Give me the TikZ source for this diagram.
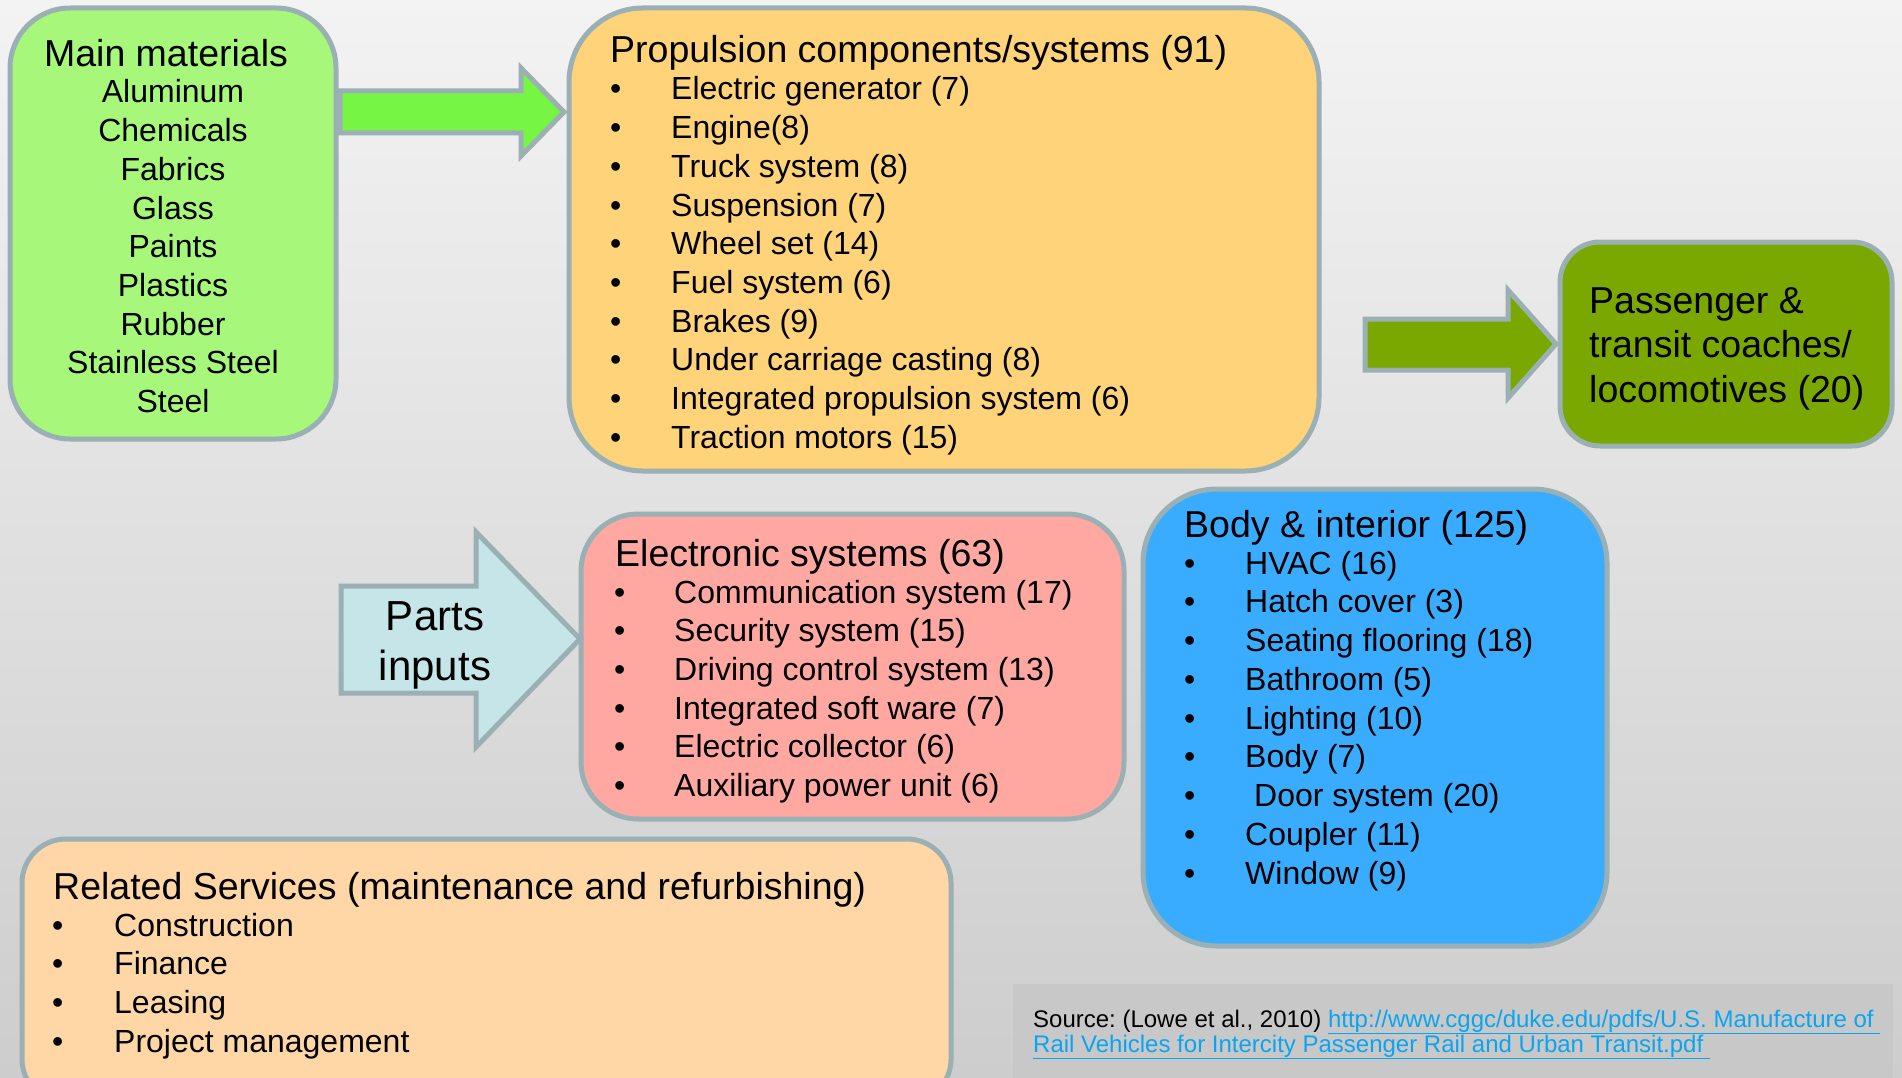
\documentclass[tikz,border=0pt]{standalone}
\usepackage{fontspec}
\setmainfont{Liberation Sans}
\frenchspacing
\definecolor{bord}{RGB}{154,176,181}
\definecolor{mgreen}{RGB}{166,247,122}
\definecolor{agreen}{RGB}{118,246,66}
\definecolor{porange}{RGB}{255,211,122}
\definecolor{olive}{RGB}{122,168,0}
\definecolor{epink}{RGB}{255,168,162}
\definecolor{bblue}{RGB}{58,172,255}
\definecolor{rpeach}{RGB}{255,215,166}
\definecolor{pcyan}{RGB}{197,229,232}
\definecolor{linkc}{RGB}{10,165,240}
\definecolor{bgtop}{RGB}{243,243,243}
\definecolor{bgbot}{RGB}{205,205,205}
\definecolor{srcbg}{RGB}{200,200,200}
\begin{document}
\begin{tikzpicture}[x=1pt,y=-1pt,
  box/.style={draw=bord, line width=5pt, inner sep=0pt, outer sep=0pt, anchor=north west},
  barrow/.style={draw=bord, line width=5pt, line join=miter},
  tx/.style={anchor=base west, inner sep=0pt, font=\fontsize{32}{38}\selectfont},
  txc/.style={anchor=base, inner sep=0pt, font=\fontsize{32}{38}\selectfont},
  ttl/.style={anchor=base west, inner sep=0pt, font=\fontsize{37.5}{44}\selectfont},
  src/.style={anchor=base west, inner sep=0pt, font=\fontsize{24}{27}\selectfont}]
\useasboundingbox (0,0) rectangle (1902,1078);
\shade[top color=bgtop, bottom color=bgbot] (0,0) rectangle (1902,1078);

% source box
\fill[srcbg] (1013,984) rectangle (1893,1078);

% boxes
\node[box, fill=mgreen, rounded corners=60pt, minimum width=326pt, minimum height=431pt] (main) at (10,8) {};
\node[box, fill=porange, rounded corners=74pt, minimum width=750pt, minimum height=463pt] (prop) at (569,8) {};
\node[box, fill=olive, rounded corners=40pt, minimum width=332pt, minimum height=204pt] (pass) at (1560,242) {};
\node[box, fill=epink, rounded corners=57pt, minimum width=543pt, minimum height=305pt] (elec) at (581,514) {};
\node[box, fill=bblue, rounded corners=74pt, minimum width=464pt, minimum height=457pt] (body) at (1143,489) {};
\node[box, fill=rpeach, rounded corners=44pt, minimum width=929pt, minimum height=264pt] (rel) at (22,839) {};

% block arrows
\draw[barrow, fill=agreen] (340,91) -- (521,91) -- (521,68) -- (564,112) -- (521,156) -- (521,133) -- (340,133) -- cycle;
\draw[barrow, fill=olive] (1365,319) -- (1508,319) -- (1508,290) -- (1556,344) -- (1508,398) -- (1508,370) -- (1365,370) -- cycle;
\draw[barrow, fill=pcyan] (341,586) -- (476,586) -- (476,532) -- (580,639) -- (476,747) -- (476,693) -- (341,693) -- cycle;

% main materials
\node[anchor=base, inner sep=0pt, font=\fontsize{37.5}{44}\selectfont] (mt) at (166,67) {Main materials};
\foreach [count=\i] \t in {Aluminum,Chemicals,Fabrics,Glass,Paints,Plastics,Rubber,Stainless Steel,Steel}
  \node[txc] (m\i) at (173,{103+38.7*(\i-1)}) {\t};

% propulsion
\node[ttl] (pt) at (610,63) {Propulsion components/systems (91)};
\foreach [count=\i] \t in {Electric generator (7),Engine(8),Truck system (8),Suspension (7),Wheel set (14),Fuel system (6),Brakes (9),Under carriage casting (8),Integrated propulsion system (6),Traction motors (15)}{
  \node[tx] (pb\i) at (610,{100+38.7*(\i-1)}) {\textbullet};
  \node[tx] (p\i) at (671,{100+38.7*(\i-1)}) {\t};
}

% passenger
\node[ttl] (pa1) at (1589,313) {Passenger \&};
\node[ttl] (pa2) at (1589,357) {transit coaches/};
\node[ttl] (pa3) at (1589,402) {locomotives (20)};

% parts inputs
\node[anchor=base, inner sep=0pt, font=\fontsize{42}{50}\selectfont] (pi1) at (435,630) {Parts};
\node[anchor=base, inner sep=0pt, font=\fontsize{42}{50}\selectfont] (pi2) at (435,680) {inputs};

% electronic
\node[ttl] (et) at (615,566) {Electronic systems (63)};
\foreach [count=\i] \t in {Communication system (17),Security system (15),Driving control system (13),Integrated soft ware (7),Electric collector (6),Auxiliary power unit (6)}{
  \node[tx] (eb\i) at (614,{603+38.7*(\i-1)}) {\textbullet};
  \node[tx] (e\i) at (674,{603+38.7*(\i-1)}) {\t};
}

% body
\node[ttl] (bt) at (1184,537) {Body \& interior (125)};
\foreach [count=\i] \t in {HVAC (16),Hatch cover (3),Seating flooring (18),Bathroom (5),Lighting (10),Body (7),\hspace{9pt}Door system (20),Coupler (11),Window (9)}{
  \node[tx] (bb\i) at (1184,{574+38.75*(\i-1)}) {\textbullet};
  \node[tx] (b\i) at (1245,{574+38.75*(\i-1)}) {\t};
}

% related services
\node[ttl] (rt) at (53,899) {Related Services (maintenance and refurbishing)};
\foreach [count=\i] \t in {Construction,Finance,Leasing,Project management}{
  \node[tx] (rb\i) at (52,{936+38.7*(\i-1)}) {\textbullet};
  \node[tx] (r\i) at (114,{936+38.7*(\i-1)}) {\t};
}

% source
\node[src] (s1) at (1033,1027) {Source: (Lowe et al., 2010) \textcolor{linkc}{\underline{http://www.cggc/duke.edu/pdfs/U.S. Manufacture of\ }}};
\node[src, text=linkc] (s2) at (1033,1052) {\underline{Rail Vehicles for Intercity Passenger Rail and Urban Transit.pdf\ }};
\end{tikzpicture}
\end{document}
